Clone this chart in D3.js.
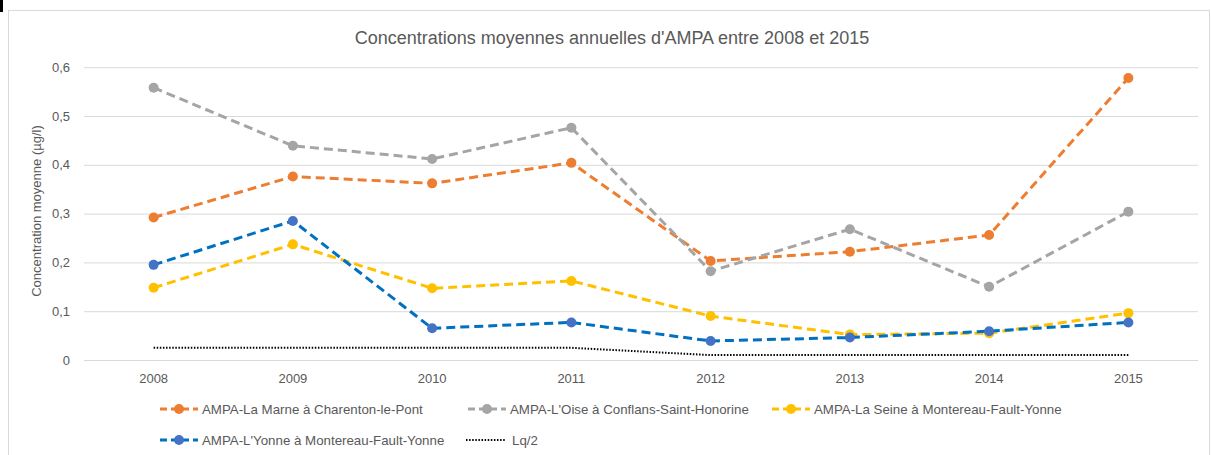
<!DOCTYPE html>
<html>
<head>
<meta charset="utf-8">
<script src="https://cdn.jsdelivr.net/npm/d3@7"></script>
<style>
  body { margin: 0; background: #fff; }
  svg { display: block; font-family: "Liberation Sans", Arial, sans-serif; }
</style>
</head>
<body>
<div id="chart"></div>
<script>
// data
const years = ["2008", "2009", "2010", "2011", "2012", "2013", "2014", "2015"];
const marne = [0.292, 0.376, 0.362, 0.404, 0.203, 0.222, 0.256, 0.578];
const oise = [0.558, 0.439, 0.412, 0.476, 0.182, 0.268, 0.150, 0.304];
const seine = [0.148, 0.237, 0.147, 0.162, 0.090, 0.052, 0.055, 0.096];
const yonne = [0.195, 0.285, 0.065, 0.077, 0.039, 0.046, 0.059, 0.077];
const lq2 = [0.025, 0.025, 0.025, 0.025, 0.01, 0.01, 0.01, 0.01];
const yTicks = [0, 0.1, 0.2, 0.3, 0.4, 0.5, 0.6];

const series = [
  {label: "AMPA-La Marne à Charenton-le-Pont", values: marne, line: "#ED7D31", dot: "#ED7D31"},
  {label: "AMPA-L'Oise à Conflans-Saint-Honorine", values: oise, line: "#A5A5A5", dot: "#A5A5A5"},
  {label: "AMPA-La Seine à Montereau-Fault-Yonne", values: seine, line: "#FFC000", dot: "#FFC000"},
  {label: "AMPA-L'Yonne à Montereau-Fault-Yonne", values: yonne, line: "#0070C0", dot: "#4472C4"}
];

const W = 1211, H = 455;
const svg = d3.select("#chart").append("svg")
    .attr("width", W)
    .attr("height", H);

// chart frame
svg.append("rect")
    .attr("x", 8.5).attr("y", 10.5)
    .attr("width", 1201).attr("height", 460)
    .attr("fill", "#fff")
    .attr("stroke", "#d9d9d9");
svg.append("rect")
    .attr("x", 0).attr("y", 0)
    .attr("width", 3).attr("height", 12)
    .attr("fill", "#000");

const x = d3.scaleBand()
    .domain(years)
    .range([84, 1198]);
const cx = d => x(d) + x.bandwidth() / 2;

const y = d3.scaleLinear()
    .domain([0, 0.6])
    .range([360, 67.2]);

const fmt = d => d === 0 ? "0" : d3.format(".1f")(d).replace(".", ",");

// gridlines + y labels
const yAxis = svg.append("g")
    .attr("transform", "translate(84,0)")
    .call(d3.axisLeft(y).tickValues(yTicks).tickFormat(fmt).tickSize(-1114).tickPadding(14));
yAxis.select(".domain").remove();
yAxis.selectAll(".tick line").attr("stroke", "#d9d9d9");
yAxis.selectAll(".tick text")
    .attr("fill", "#595959")
    .style("font-size", "13px");

// x labels
const xAxis = svg.append("g")
    .attr("transform", "translate(0,360)")
    .call(d3.axisBottom(x).tickSize(0).tickPadding(14));
xAxis.select(".domain").remove();
xAxis.selectAll(".tick text")
    .attr("fill", "#595959")
    .style("font-size", "13px");

// title
svg.append("text")
    .attr("x", 612)
    .attr("y", 44)
    .attr("text-anchor", "middle")
    .attr("fill", "#595959")
    .style("font-size", "18px")
    .text("Concentrations moyennes annuelles d'AMPA entre 2008 et 2015");

// y axis title
svg.append("text")
    .attr("transform", "translate(41,211) rotate(-90)")
    .attr("text-anchor", "middle")
    .attr("fill", "#595959")
    .style("font-size", "13px")
    .text("Concentration moyenne (µg/l)");

const line = d3.line()
    .x((d, i) => cx(years[i]))
    .y(d => y(d));

// Lq/2
svg.append("path")
    .attr("fill", "none")
    .attr("stroke", "#000")
    .attr("stroke-width", 2)
    .attr("stroke-dasharray", "1.5 1.6")
    .attr("d", line(lq2));

const groups = svg.selectAll(".serie")
    .data(series)
    .enter().append("g")
    .attr("class", "serie");

groups.append("path")
    .attr("fill", "none")
    .attr("stroke", d => d.line)
    .attr("stroke-width", 3)
    .attr("stroke-dasharray", "9 5")
    .attr("d", d => line(d.values));

groups.selectAll("circle")
    .data(d => d.values.map(v => ({v: v, c: d.dot})))
    .enter().append("circle")
    .attr("cx", (d, i) => cx(years[i]))
    .attr("cy", d => y(d.v))
    .attr("r", 5)
    .attr("fill", d => d.c);

// legend
const legendPos = [[160, 409], [468, 409], [772, 409], [160, 440]];
series.forEach((s, i) => {
  const g = svg.append("g")
      .attr("transform", `translate(${legendPos[i][0]},${legendPos[i][1]})`);
  g.append("line")
      .attr("x1", 0).attr("x2", 38)
      .attr("stroke", s.line)
      .attr("stroke-width", 3)
      .attr("stroke-dasharray", "7 4");
  g.append("circle")
      .attr("cx", 19).attr("r", 5)
      .attr("fill", s.dot);
  g.append("text")
      .attr("x", 42)
      .attr("dy", "0.35em")
      .attr("fill", "#595959")
      .style("font-size", "13.3px")
      .text(s.label);
});
const lqLeg = svg.append("g").attr("transform", "translate(466,440)");
lqLeg.append("line")
    .attr("x1", 0).attr("x2", 39)
    .attr("stroke", "#000")
    .attr("stroke-width", 2)
    .attr("stroke-dasharray", "1.5 1.6");
lqLeg.append("text")
    .attr("x", 46)
    .attr("dy", "0.35em")
    .attr("fill", "#595959")
    .style("font-size", "13.3px")
    .text("Lq/2");
</script>
</body>
</html>
